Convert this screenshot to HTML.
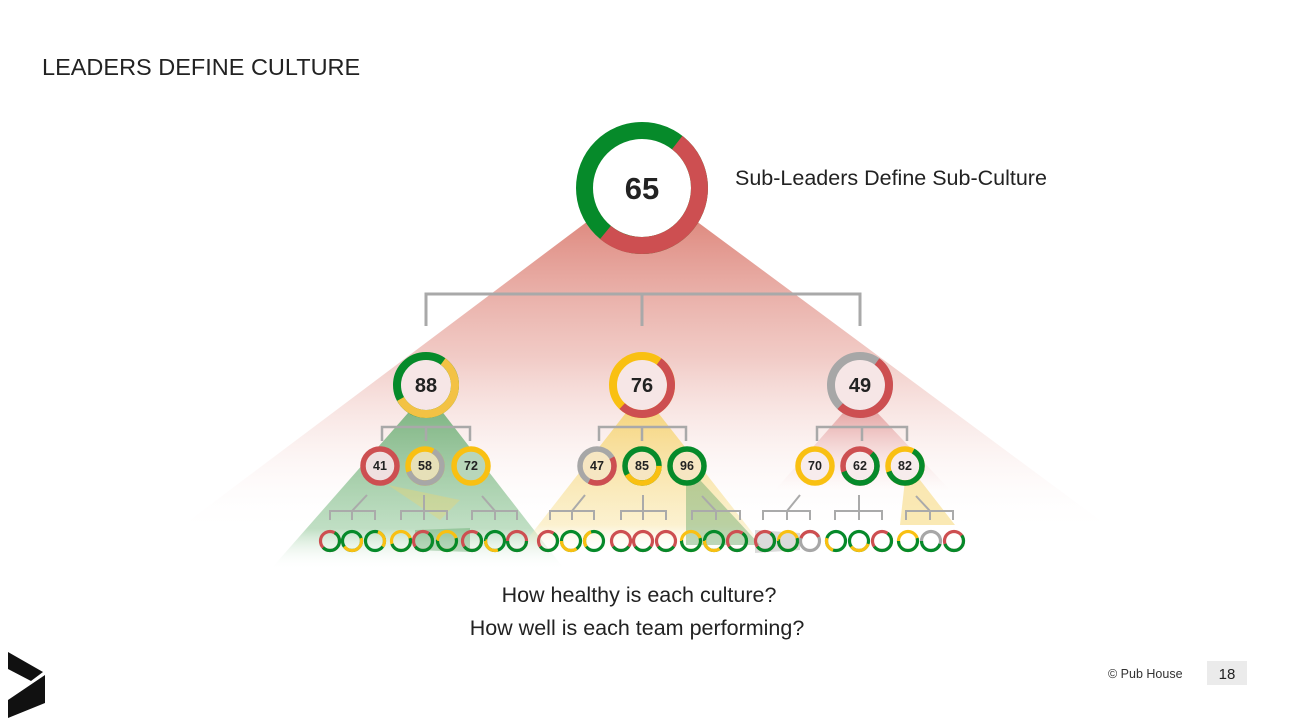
<!DOCTYPE html>
<html><head><meta charset="utf-8"><style>
html,body{margin:0;padding:0;background:#fff;}
svg{display:block;font-family:"Liberation Sans",Arial,sans-serif;}
</style></head><body>
<svg width="1292" height="727" viewBox="0 0 1292 727" xmlns="http://www.w3.org/2000/svg">
<defs>
<linearGradient id="gr" x1="0" y1="0" x2="0" y2="1">
<stop offset="0" stop-color="#d9786c" stop-opacity="0.9"/>
<stop offset="0.45" stop-color="#e8a8a0" stop-opacity="0.6"/>
<stop offset="1" stop-color="#fff" stop-opacity="0"/>
</linearGradient>
<linearGradient id="gg" x1="0" y1="0" x2="0" y2="1">
<stop offset="0" stop-color="#5fa86a" stop-opacity="0.8"/>
<stop offset="0.75" stop-color="#8cc493" stop-opacity="0.55"/>
<stop offset="1" stop-color="#fff" stop-opacity="0"/>
</linearGradient>
<linearGradient id="gy" x1="0" y1="0" x2="0" y2="1">
<stop offset="0" stop-color="#f5cf5a" stop-opacity="0.75"/>
<stop offset="0.8" stop-color="#f8e3a0" stop-opacity="0.5"/>
<stop offset="1" stop-color="#fff" stop-opacity="0"/>
</linearGradient>
<linearGradient id="gr2" x1="0" y1="0" x2="0" y2="1">
<stop offset="0" stop-color="#d46a6a" stop-opacity="0.6"/>
<stop offset="1" stop-color="#f3d0d0" stop-opacity="0"/>
</linearGradient>
</defs>

<text x="42" y="75" font-size="23.5" fill="#222">LEADERS DEFINE CULTURE</text>

<polygon points="600,212 684,212 1120,535 170,535" fill="url(#gr)"/>
<polygon points="415,405 437,405 565,570 270,570" fill="url(#gg)"/>
<polygon points="632,405 652,405 770,555 515,555" fill="url(#gy)"/>
<polygon points="850,405 870,405 950,490 775,490" fill="url(#gr2)"/>
<polygon points="686,480 700,480 760,545 686,545" fill="#6aa86a" opacity="0.45"/>
<polygon points="388,485 460,500 440,520" fill="#f1d36a" opacity="0.35"/>
<polygon points="905,480 920,480 955,525 900,525" fill="#f5d46a" opacity="0.5"/>
<polygon points="755,530 800,533 800,550 755,553" fill="#999" opacity="0.35"/>
<polygon points="415,530 470,528 470,552 415,550" fill="#4a9a55" opacity="0.35"/>

<g stroke="#a9a9a9" stroke-width="3" fill="none">
<polyline points="426,326 426,294 860,294 860,326"/>
<line x1="642" y1="294" x2="642" y2="326"/>
</g>
<g stroke="#a9a9a9" stroke-width="2.5" fill="none">
<polyline points="382,441 382,427 470,427 470,441"/><line x1="426" y1="427" x2="426" y2="441"/>
<polyline points="599,441 599,427 686,427 686,441"/><line x1="642" y1="427" x2="642" y2="441"/>
<polyline points="817,441 817,427 907,427 907,441"/><line x1="862" y1="427" x2="862" y2="441"/>
</g>
<g stroke="#aaa" stroke-width="2" fill="none">
<polyline points="330,520 330,511 375,511 375,520"/><line x1="352" y1="511" x2="352" y2="520"/><line x1="367" y1="495" x2="352" y2="511"/>
<polyline points="401,520 401,511 447,511 447,520"/><line x1="424" y1="495" x2="424" y2="520"/>
<polyline points="472,520 472,511 517,511 517,520"/><line x1="495" y1="511" x2="495" y2="520"/><line x1="482" y1="496" x2="495" y2="511"/>
<polyline points="550,520 550,511 594,511 594,520"/><line x1="572" y1="511" x2="572" y2="520"/><line x1="585" y1="495" x2="572" y2="511"/>
<polyline points="621,520 621,511 666,511 666,520"/><line x1="643" y1="495" x2="643" y2="520"/>
<polyline points="692,520 692,511 740,511 740,520"/><line x1="716" y1="511" x2="716" y2="520"/><line x1="702" y1="496" x2="716" y2="511"/>
<polyline points="763,520 763,511 810,511 810,520"/><line x1="787" y1="511" x2="787" y2="520"/><line x1="800" y1="495" x2="787" y2="511"/>
<polyline points="835,520 835,511 882,511 882,520"/><line x1="859" y1="495" x2="859" y2="520"/>
<polyline points="906,520 906,511 953,511 953,520"/><line x1="930" y1="511" x2="930" y2="520"/><line x1="916" y1="496" x2="930" y2="511"/>
</g>

<circle cx="642" cy="188" r="49" fill="#fff"/>
<circle cx="642" cy="188" r="57.5" fill="none" stroke="#068a2a" stroke-width="17"/>
<circle cx="642" cy="188" r="57.5" fill="none" stroke="#cd4f51" stroke-width="17" pathLength="100" stroke-dasharray="50.5 200" stroke-dashoffset="-10.5" transform="rotate(-90 642 188)"/>
<text x="642" y="199" font-size="31" font-weight="bold" text-anchor="middle" fill="#222">65</text>
<text x="735" y="185" font-size="21.5" fill="#222">Sub-Leaders Define Sub-Culture</text>

<g fill="none" stroke-width="8">
<circle cx="426" cy="385" r="29" fill="#f6e6e6" stroke="#068a2a"/>
<circle cx="426" cy="385" r="29" stroke="#f3c244" pathLength="100" stroke-dasharray="57 200" stroke-dashoffset="-10" transform="rotate(-90 426 385)"/>
<circle cx="642" cy="385" r="29" fill="#f6e6e6" stroke="#f9c012"/>
<circle cx="642" cy="385" r="29" stroke="#cd4f51" pathLength="100" stroke-dasharray="52 200" stroke-dashoffset="-10" transform="rotate(-90 642 385)"/>
<circle cx="860" cy="385" r="29" fill="#f6e6e6" stroke="#a7a7a7"/>
<circle cx="860" cy="385" r="29" stroke="#cd4f51" pathLength="100" stroke-dasharray="52 200" stroke-dashoffset="-10" transform="rotate(-90 860 385)"/>
</g>
<g font-size="20" font-weight="bold" text-anchor="middle" fill="#222">
<text x="426" y="392">88</text><text x="642" y="392">76</text><text x="860" y="392">49</text>
</g>

<g fill="none" stroke-width="5.5">
<circle cx="380" cy="466" r="17" fill="#efe0e0" stroke="#cd4f51"/>
<circle cx="425" cy="466" r="17" fill="#e6e0b8" stroke="#f9c012"/>
<circle cx="425" cy="466" r="17" stroke="#a7a7a7" pathLength="100" stroke-dasharray="62 200" stroke-dashoffset="-8" transform="rotate(-90 425 466)"/>
<circle cx="471" cy="466" r="17" fill="#b8d6ba" stroke="#f9c012"/>
<circle cx="597" cy="466" r="17" fill="#f6e6c2" stroke="#a7a7a7"/>
<circle cx="597" cy="466" r="17" stroke="#cd4f51" pathLength="100" stroke-dasharray="41 200" stroke-dashoffset="-17" transform="rotate(-90 597 466)"/>
<circle cx="642" cy="466" r="17" fill="#f6e6c2" stroke="#068a2a"/>
<circle cx="642" cy="466" r="17" stroke="#f9c012" pathLength="100" stroke-dasharray="42 200" stroke-dashoffset="-25" transform="rotate(-90 642 466)"/>
<circle cx="687" cy="466" r="17" fill="#f6e6c2" stroke="#068a2a"/>
<circle cx="815" cy="466" r="17" fill="#f7ecec" stroke="#f9c012"/>
<circle cx="860" cy="466" r="17" fill="#f7ecec" stroke="#cd4f51"/>
<circle cx="860" cy="466" r="17" stroke="#068a2a" pathLength="100" stroke-dasharray="58 200" stroke-dashoffset="-12" transform="rotate(-90 860 466)"/>
<circle cx="905" cy="466" r="17" fill="#f7ecec" stroke="#f9c012"/>
<circle cx="905" cy="466" r="17" stroke="#068a2a" pathLength="100" stroke-dasharray="62 200" stroke-dashoffset="-8" transform="rotate(-90 905 466)"/>
</g>
<g font-size="12.5" font-weight="bold" text-anchor="middle" fill="#222">
<text x="380" y="470">41</text><text x="425" y="470">58</text><text x="471" y="470">72</text>
<text x="597" y="470">47</text><text x="642" y="470">85</text><text x="687" y="470">96</text>
<text x="815" y="470">70</text><text x="860" y="470">62</text><text x="905" y="470">82</text>
</g>

<g fill="none" stroke-width="3.2">
<circle cx="330" cy="541" r="9.5" stroke="#cd4f51"/><circle cx="330" cy="541" r="9.5" stroke="#068a2a" pathLength="100" stroke-dasharray="55 200" stroke-dashoffset="-8" transform="rotate(-90 330 541)"/>
<circle cx="352" cy="541" r="9.5" stroke="#068a2a"/><circle cx="352" cy="541" r="9.5" stroke="#f9c012" pathLength="100" stroke-dasharray="45 200" stroke-dashoffset="-20" transform="rotate(-90 352 541)"/>
<circle cx="375" cy="541" r="9.5" stroke="#068a2a"/><circle cx="375" cy="541" r="9.5" stroke="#f9c012" pathLength="100" stroke-dasharray="30 200" stroke-dashoffset="-5" transform="rotate(-90 375 541)"/>
<circle cx="401" cy="541" r="9.5" stroke="#f9c012"/><circle cx="401" cy="541" r="9.5" stroke="#068a2a" pathLength="100" stroke-dasharray="50 200" stroke-dashoffset="-20" transform="rotate(-90 401 541)"/>
<circle cx="423" cy="541" r="9.5" stroke="#cd4f51"/><circle cx="423" cy="541" r="9.5" stroke="#068a2a" pathLength="100" stroke-dasharray="55 200" stroke-dashoffset="-10" transform="rotate(-90 423 541)"/>
<circle cx="447" cy="541" r="9.5" stroke="#f9c012"/><circle cx="447" cy="541" r="9.5" stroke="#068a2a" pathLength="100" stroke-dasharray="55 200" stroke-dashoffset="-20" transform="rotate(-90 447 541)"/>
<circle cx="472" cy="541" r="9.5" stroke="#cd4f51"/><circle cx="472" cy="541" r="9.5" stroke="#068a2a" pathLength="100" stroke-dasharray="55 200" stroke-dashoffset="-10" transform="rotate(-90 472 541)"/>
<circle cx="495" cy="541" r="9.5" stroke="#068a2a"/><circle cx="495" cy="541" r="9.5" stroke="#f9c012" pathLength="100" stroke-dasharray="30 200" stroke-dashoffset="-45" transform="rotate(-90 495 541)"/>
<circle cx="517" cy="541" r="9.5" stroke="#cd4f51"/><circle cx="517" cy="541" r="9.5" stroke="#068a2a" pathLength="100" stroke-dasharray="50 200" stroke-dashoffset="-25" transform="rotate(-90 517 541)"/>
<circle cx="548" cy="541" r="9.5" stroke="#cd4f51"/><circle cx="548" cy="541" r="9.5" stroke="#068a2a" pathLength="100" stroke-dasharray="55 200" stroke-dashoffset="-10" transform="rotate(-90 548 541)"/>
<circle cx="571" cy="541" r="9.5" stroke="#068a2a"/><circle cx="571" cy="541" r="9.5" stroke="#f9c012" pathLength="100" stroke-dasharray="35 200" stroke-dashoffset="-40" transform="rotate(-90 571 541)"/>
<circle cx="594" cy="541" r="9.5" stroke="#068a2a"/><circle cx="594" cy="541" r="9.5" stroke="#f9c012" pathLength="100" stroke-dasharray="30 200" stroke-dashoffset="-65" transform="rotate(-90 594 541)"/>
<circle cx="621" cy="541" r="9.5" stroke="#cd4f51"/><circle cx="621" cy="541" r="9.5" stroke="#068a2a" pathLength="100" stroke-dasharray="30 200" stroke-dashoffset="-35" transform="rotate(-90 621 541)"/>
<circle cx="643" cy="541" r="9.5" stroke="#cd4f51"/><circle cx="643" cy="541" r="9.5" stroke="#068a2a" pathLength="100" stroke-dasharray="30 200" stroke-dashoffset="-35" transform="rotate(-90 643 541)"/>
<circle cx="666" cy="541" r="9.5" stroke="#cd4f51"/><circle cx="666" cy="541" r="9.5" stroke="#068a2a" pathLength="100" stroke-dasharray="30 200" stroke-dashoffset="-35" transform="rotate(-90 666 541)"/>
<circle cx="691" cy="541" r="9.5" stroke="#f9c012"/><circle cx="691" cy="541" r="9.5" stroke="#068a2a" pathLength="100" stroke-dasharray="55 200" stroke-dashoffset="-20" transform="rotate(-90 691 541)"/>
<circle cx="714" cy="541" r="9.5" stroke="#068a2a"/><circle cx="714" cy="541" r="9.5" stroke="#f9c012" pathLength="100" stroke-dasharray="35 200" stroke-dashoffset="-40" transform="rotate(-90 714 541)"/>
<circle cx="737" cy="541" r="9.5" stroke="#cd4f51"/><circle cx="737" cy="541" r="9.5" stroke="#068a2a" pathLength="100" stroke-dasharray="55 200" stroke-dashoffset="-10" transform="rotate(-90 737 541)"/>
<circle cx="765" cy="541" r="9.5" stroke="#cd4f51"/><circle cx="765" cy="541" r="9.5" stroke="#068a2a" pathLength="100" stroke-dasharray="55 200" stroke-dashoffset="-10" transform="rotate(-90 765 541)"/>
<circle cx="788" cy="541" r="9.5" stroke="#f9c012"/><circle cx="788" cy="541" r="9.5" stroke="#068a2a" pathLength="100" stroke-dasharray="55 200" stroke-dashoffset="-20" transform="rotate(-90 788 541)"/>
<circle cx="810" cy="541" r="9.5" stroke="#a7a7a7"/><circle cx="810" cy="541" r="9.5" stroke="#cd4f51" pathLength="100" stroke-dasharray="35 200" stroke-dashoffset="-80" transform="rotate(-90 810 541)"/><circle cx="810" cy="541" r="9.5" stroke="#cd4f51" pathLength="100" stroke-dasharray="18 200" transform="rotate(-90 810 541)"/>
<circle cx="836" cy="541" r="9.5" stroke="#068a2a"/><circle cx="836" cy="541" r="9.5" stroke="#f9c012" pathLength="100" stroke-dasharray="25 200" stroke-dashoffset="-55" transform="rotate(-90 836 541)"/>
<circle cx="859" cy="541" r="9.5" stroke="#068a2a"/><circle cx="859" cy="541" r="9.5" stroke="#f9c012" pathLength="100" stroke-dasharray="35 200" stroke-dashoffset="-30" transform="rotate(-90 859 541)"/>
<circle cx="882" cy="541" r="9.5" stroke="#cd4f51"/><circle cx="882" cy="541" r="9.5" stroke="#068a2a" pathLength="100" stroke-dasharray="55 200" stroke-dashoffset="-10" transform="rotate(-90 882 541)"/>
<circle cx="908" cy="541" r="9.5" stroke="#f9c012"/><circle cx="908" cy="541" r="9.5" stroke="#068a2a" pathLength="100" stroke-dasharray="55 200" stroke-dashoffset="-20" transform="rotate(-90 908 541)"/>
<circle cx="931" cy="541" r="9.5" stroke="#a7a7a7"/><circle cx="931" cy="541" r="9.5" stroke="#068a2a" pathLength="100" stroke-dasharray="45 200" stroke-dashoffset="-30" transform="rotate(-90 931 541)"/>
<circle cx="954" cy="541" r="9.5" stroke="#cd4f51"/><circle cx="954" cy="541" r="9.5" stroke="#068a2a" pathLength="100" stroke-dasharray="55 200" stroke-dashoffset="-15" transform="rotate(-90 954 541)"/>
</g>

<text x="639" y="602" font-size="21.5" text-anchor="middle" fill="#222">How healthy is each culture?</text>
<text x="637" y="635" font-size="21.5" text-anchor="middle" fill="#222">How well is each team performing?</text>

<polygon points="8,652 43,672 31,681 8,669" fill="#111"/>
<polygon points="45,675 45,703 8,718 8,700" fill="#111"/>

<text x="1108" y="678" font-size="12.5" fill="#333">© Pub House</text>
<rect x="1207" y="661" width="40" height="24" fill="#ebebeb"/>
<text x="1227" y="679" font-size="15" text-anchor="middle" fill="#222">18</text>
</svg>
</body></html>
